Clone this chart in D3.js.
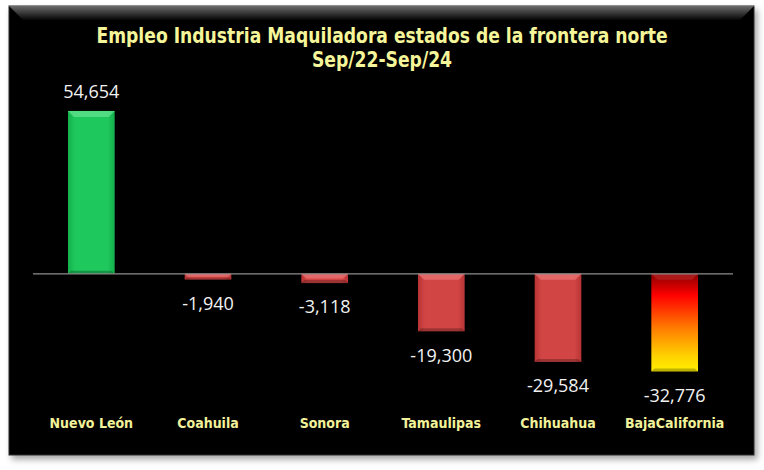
<!DOCTYPE html>
<html>
<head>
<meta charset="utf-8">
<script src="https://cdn.jsdelivr.net/npm/d3@7"></script>
<style>
  body { margin: 0; background: #ffffff; }
</style>
</head>
<body>
<div id="chart"></div>
<script>
// Data
const categories = ["Nuevo León", "Coahuila", "Sonora", "Tamaulipas", "Chihuahua", "BajaCalifornia"];
const values = [54654, -1940, -3118, -19300, -29584, -32776];
const titleLines = ["Empleo Industria Maquiladora estados de la frontera norte", "Sep/22-Sep/24"];

const width = 764;
const height = 470;
const panel = { x: 9, y: 6, w: 745, h: 449 };
const plot = { left: 33, right: 733 };

const fmt = d3.formatLocale({ decimal: ".", thousands: ",", grouping: [3], currency: ["", ""], minus: "-" }).format(",");

const svg = d3.select("#chart").append("svg")
  .attr("width", width)
  .attr("height", height);

const defs = svg.append("defs");

// drop shadow for the black panel
const shadow = defs.append("filter").attr("id", "shadow")
  .attr("x", "-5%").attr("y", "-5%").attr("width", "110%").attr("height", "115%");
shadow.append("feDropShadow")
  .attr("dx", 3).attr("dy", 4).attr("stdDeviation", 3)
  .attr("flood-color", "#000").attr("flood-opacity", 0.35);

// top bevel of the panel
const topGrad = defs.append("linearGradient").attr("id", "panelTop")
  .attr("x1", 0).attr("y1", 0).attr("x2", 0).attr("y2", 1);
topGrad.append("stop").attr("offset", "0%").attr("stop-color", "#6a6a6a");
topGrad.append("stop").attr("offset", "100%").attr("stop-color", "#050505");

// fills for the bars
function vGrad(id, stops) {
  const g = defs.append("linearGradient").attr("id", id)
    .attr("x1", 0).attr("y1", 0).attr("x2", 0).attr("y2", 1);
  stops.forEach(s => g.append("stop").attr("offset", s[0]).attr("stop-color", s[1]));
}
function hGrad(id, stops) {
  const g = defs.append("linearGradient").attr("id", id)
    .attr("x1", 0).attr("y1", 0).attr("x2", 1).attr("y2", 0);
  stops.forEach(s => g.append("stop").attr("offset", s[0]).attr("stop-color", s[1]));
}
hGrad("greenFill", [["0%", "#14b04c"], ["15%", "#1ec85c"], ["85%", "#1ec85c"], ["100%", "#14b04c"]]);
hGrad("redFill", [["0%", "#b83434"], ["15%", "#d24545"], ["85%", "#d24545"], ["100%", "#b83434"]]);
vGrad("bajaFill", [["0%", "#8a0000"], ["22%", "#ff0000"], ["55%", "#ff7a00"], ["85%", "#ffd400"], ["100%", "#fff000"]]);

// panel
svg.append("rect")
  .attr("x", panel.x).attr("y", panel.y)
  .attr("width", panel.w).attr("height", panel.h)
  .attr("fill", "#050505")
  .attr("stroke", "#2a2a2a")
  .attr("filter", "url(#shadow)");

svg.append("path")
  .attr("d", `M${panel.x},${panel.y} H${panel.x + panel.w} L${panel.x + panel.w - 14},${panel.y + 14} H${panel.x + 14} Z`)
  .attr("fill", "url(#panelTop)");

// scales
const x = d3.scaleBand()
  .domain(categories)
  .range([plot.left, plot.right])
  .paddingInner(0.6)
  .paddingOuter(0.3);

const y = d3.scaleLinear()
  .domain([-40000, 60000])
  .range([393, 95]);

const data = categories.map((c, i) => ({ state: c, value: values[i] }));

// bars
const bars = svg.append("g");

bars.selectAll(".bar")
  .data(data)
  .enter().append("rect")
  .attr("class", "bar")
  .attr("x", d => x(d.state))
  .attr("y", d => Math.min(y(d.value), y(0)))
  .attr("width", x.bandwidth())
  .attr("height", d => Math.abs(y(d.value) - y(0)))
  .attr("fill", d => d.value > 0 ? "url(#greenFill)" : (d.state === "BajaCalifornia" ? "url(#bajaFill)" : "url(#redFill)"));

// bevel on the top edge of each bar
bars.selectAll(".bevel")
  .data(data)
  .enter().append("path")
  .attr("class", "bevel")
  .attr("d", d => {
    const x0 = x(d.state), x1 = x0 + x.bandwidth();
    const top = Math.min(y(d.value), y(0));
    const h = Math.abs(y(d.value) - y(0));
    const b = Math.min(6, h / 2);
    return `M${x0},${top} H${x1} L${x1 - b},${top + b} H${x0 + b} Z`;
  })
  .attr("fill", d => d.value > 0 ? "#5ee08c" : (d.state === "BajaCalifornia" ? "#b02020" : "#e87070"))
  .attr("opacity", 0.8);

// darker bottom edge
bars.selectAll(".bevelBottom")
  .data(data)
  .enter().append("path")
  .attr("class", "bevelBottom")
  .attr("d", d => {
    const x0 = x(d.state), x1 = x0 + x.bandwidth();
    const bottom = Math.max(y(d.value), y(0));
    const h = Math.abs(y(d.value) - y(0));
    const b = Math.min(3, h / 3);
    return `M${x0},${bottom} H${x1} L${x1 - b},${bottom - b} H${x0 + b} Z`;
  })
  .attr("fill", "#000")
  .attr("opacity", 0.25);

// zero line
svg.append("line")
  .attr("x1", plot.left).attr("x2", plot.right)
  .attr("y1", y(0)).attr("y2", y(0))
  .attr("stroke", "#8c8c8c")
  .attr("stroke-width", 1.2);

// value labels
svg.selectAll(".value")
  .data(data)
  .enter().append("text")
  .attr("class", "value")
  .attr("x", d => x(d.state) + x.bandwidth() / 2)
  .attr("y", d => d.value > 0 ? y(d.value) - 19 : y(d.value) + 24)
  .attr("dy", "0.35em")
  .attr("text-anchor", "middle")
  .style("font-family", "'Open Sans', 'Noto Sans', sans-serif")
  .style("font-size", "18px")
  .style("fill", "#f2f2f2")
  .text(d => fmt(d.value));

// category labels
svg.selectAll(".cat")
  .data(data)
  .enter().append("text")
  .attr("class", "cat")
  .attr("x", d => x(d.state) + x.bandwidth() / 2)
  .attr("y", 423)
  .attr("dy", "0.35em")
  .attr("text-anchor", "middle")
  .style("font-family", "'DejaVu Sans Condensed', sans-serif")
  .style("font-weight", "bold")
  .style("font-size", "14px")
  .style("fill", "#f2f29a")
  .text(d => d.state);

// title, squeezed a little to match the narrow face of the original
svg.append("g")
  .attr("transform", "translate(382,0) scale(0.91,1)")
  .selectAll(".title")
  .data(titleLines)
  .enter().append("text")
  .attr("class", "title")
  .attr("x", 0)
  .attr("y", (d, i) => 36 + i * 24)
  .attr("dy", "0.35em")
  .attr("text-anchor", "middle")
  .style("font-family", "'DejaVu Sans Condensed', sans-serif")
  .style("font-weight", "bold")
  .style("font-size", "21px")
  .style("fill", "#f5f59a")
  .text(d => d);
</script>
</body>
</html>
